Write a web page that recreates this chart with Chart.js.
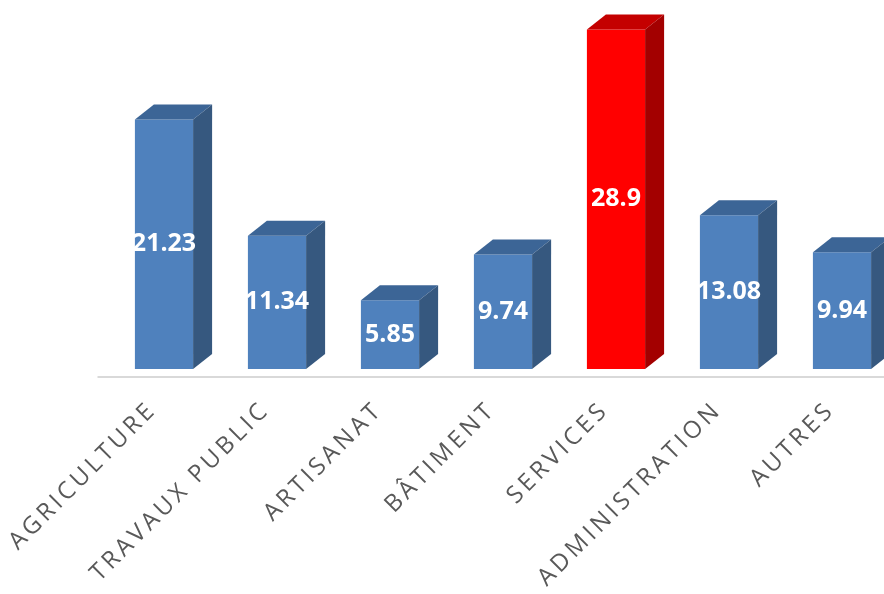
<!DOCTYPE html>
<html>
<head>
<meta charset="utf-8">
<script src="https://cdn.jsdelivr.net/npm/chart.js@4.4.0/dist/chart.umd.min.js"></script>
<style>
  html, body { margin: 0; padding: 0; background: #fff; overflow: hidden; }
  #wrap { width: 900px; height: 594px; }
</style>
</head>
<body>
<div id="wrap"><canvas id="secteurChart" width="900" height="594"></canvas></div>
<script>
// data
const categories = ['AGRICULTURE', 'TRAVAUX PUBLIC', 'ARTISANAT', 'BÂTIMENT', 'SERVICES', 'ADMINISTRATION', 'AUTRES'];
const values = [21.23, 11.34, 5.85, 9.74, 28.9, 13.08, 9.94];
const highlighted = ['SERVICES'];

// colours: front / top / side
const blue = { front: '#4F81BD', top: '#3C6596', side: '#36587F' };
const red = { front: '#FF0000', top: '#C40000', side: '#A30000' };
const DEPTH_X = 19, DEPTH_Y = 15;

function faceColors(i) {
  return highlighted.includes(categories[i]) ? red : blue;
}

// fake 3d: top + side faces, floor line, value labels, rotated category labels
const bar3d = {
  id: 'bar3d',
  afterDatasetsDraw(chart) {
    const ctx = chart.ctx;
    const area = chart.chartArea;
    const meta = chart.getDatasetMeta(0);

    // floor line
    ctx.save();
    ctx.strokeStyle = '#D9D9D9';
    ctx.lineWidth = 2;
    ctx.beginPath();
    ctx.moveTo(area.left - 10, area.bottom + 8);
    ctx.lineTo(chart.width, area.bottom + 8);
    ctx.stroke();
    ctx.restore();

    meta.data.forEach((bar, i) => {
      const p = bar.getProps(['x', 'y', 'base', 'width'], true);
      const x0 = p.x - p.width / 2, x1 = p.x + p.width / 2;
      const c = faceColors(i);
      ctx.save();
      // top face
      ctx.fillStyle = c.top;
      ctx.beginPath();
      ctx.moveTo(x0, p.y);
      ctx.lineTo(x0 + DEPTH_X, p.y - DEPTH_Y);
      ctx.lineTo(x1 + DEPTH_X, p.y - DEPTH_Y);
      ctx.lineTo(x1, p.y);
      ctx.closePath();
      ctx.fill();
      // side face
      ctx.fillStyle = c.side;
      ctx.beginPath();
      ctx.moveTo(x1, p.y);
      ctx.lineTo(x1 + DEPTH_X, p.y - DEPTH_Y);
      ctx.lineTo(x1 + DEPTH_X, p.base - DEPTH_Y);
      ctx.lineTo(x1, p.base);
      ctx.closePath();
      ctx.fill();

      // value label
      ctx.fillStyle = '#FFFFFF';
      ctx.font = 'bold 25px "Open Sans"';
      ctx.textAlign = 'center';
      ctx.textBaseline = 'middle';
      ctx.fillText(String(values[i]), p.x, (p.y + p.base) / 2);
      ctx.restore();
    });

    // category labels
    const xs = chart.scales.x;
    ctx.save();
    ctx.fillStyle = '#595959';
    ctx.font = '24px "Open Sans"';
    ctx.letterSpacing = '3.6px';
    ctx.textAlign = 'right';
    ctx.textBaseline = 'middle';
    categories.forEach((lab, i) => {
      const x = xs.getPixelForValue(i);
      ctx.save();
      ctx.translate(x - 11, area.bottom + 37);
      ctx.rotate(-Math.PI / 4);
      ctx.fillText(lab, 0, 0);
      ctx.restore();
    });
    ctx.restore();
  }
};

new Chart(document.getElementById('secteurChart'), {
  type: 'bar',
  data: {
    labels: categories,
    datasets: [{
      data: values,
      backgroundColor: categories.map((c, i) => faceColors(i).front),
      borderWidth: 0,
      barPercentage: 0.515,
      categoryPercentage: 1
    }]
  },
  options: {
    responsive: false,
    animation: false,
    devicePixelRatio: 1,
    layout: { padding: { left: 107.5, right: 1.5, top: 0, bottom: 225 } },
    scales: {
      x: { display: false },
      y: { display: false, min: 0, max: 31.4 }
    },
    plugins: {
      legend: { display: false },
      tooltip: { enabled: false }
    }
  },
  plugins: [bar3d]
});
</script>
</body>
</html>
